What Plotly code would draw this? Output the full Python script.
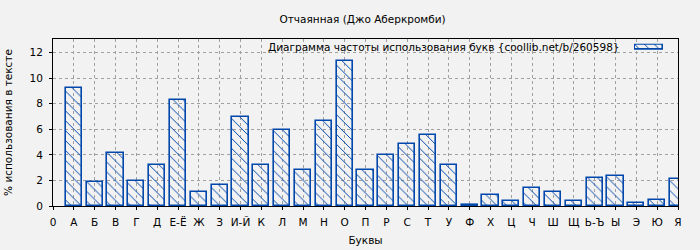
import plotly.graph_objects as go

tick_labels = ["0", "А", "Б", "В", "Г", "Д", "Е-Ё", "Ж", "З", "И-Й", "К", "Л", "М", "Н", "О",
               "П", "Р", "С", "Т", "У", "Ф", "Х", "Ц", "Ч", "Ш", "Щ", "Ь-Ъ", "Ы", "Э", "Ю", "Я"]
letters = tick_labels[1:]
values = [9.2, 1.9, 4.12, 1.92, 3.18, 8.29, 1.07, 1.62, 6.93, 3.18, 5.92, 2.79, 6.62, 11.31,
          2.79, 3.96, 4.82, 5.53, 3.18, 0.06, 0.83, 0.37, 1.38, 1.07, 0.37, 2.16, 2.32, 0.21,
          0.44, 2.09]
positions = list(range(1, len(letters) + 1))

title = "Отчаянная (Джо Аберкромби)"
legend_text = "Диаграмма частоты использования букв {coollib.net/b/260598}"
blue = "#0047AB"
font = "DejaVu Sans"
fs = 10.5

pattern = dict(shape="\\", fgcolor=blue, fgopacity=1, bgcolor="rgba(0,0,0,0)",
               size=7, solidity=0.14, fillmode="overlay")

fig = go.Figure()
fig.add_trace(go.Bar(
    x=positions, y=values, width=0.77,
    marker=dict(color="rgba(0,0,0,0)", line=dict(color=blue, width=1.6), pattern=pattern),
    showlegend=False, hoverinfo="skip"))
# legend swatch
fig.add_trace(go.Bar(
    x=[1], y=[0], orientation="h", width=1, xaxis="x2", yaxis="y2",
    marker=dict(color="rgba(0,0,0,0)", line=dict(color=blue, width=1.6), pattern=pattern),
    showlegend=False, hoverinfo="skip"))

fig.update_layout(
    width=700, height=250,
    margin=dict(l=53, r=22, t=39, b=44),
    paper_bgcolor="#f2f2f2", plot_bgcolor="#f2f2f2",
    font=dict(family=font, size=fs, color="#000"),
    title=dict(text=title, x=0.518, xanchor="center", y=0.924, yanchor="middle",
               font=dict(size=fs)),
    bargap=0,
    xaxis=dict(range=[0, 30], tickmode="array", tickvals=list(range(len(tick_labels))),
               ticktext=tick_labels, showgrid=True, gridcolor="#a0a0a0", griddash="dot",
               gridwidth=1, ticks="outside", ticklen=3, tickcolor="#000",
               ticklabelstandoff=3, automargin=False,
               showline=True, linecolor="#000", linewidth=1, mirror=True, zeroline=False,
               title=dict(text="Буквы", standoff=10, font=dict(size=fs)),
               tickfont=dict(size=fs)),
    yaxis=dict(range=[0, 13.06], tickmode="array", tickvals=[0, 2, 4, 6, 8, 10, 12],
               showgrid=True, gridcolor="#a0a0a0", griddash="dot", gridwidth=1,
               ticks="outside", ticklen=3, tickcolor="#000", ticklabelstandoff=4,
               automargin=False,
               showline=True, linecolor="#000", linewidth=1, mirror=True, zeroline=False,
               title=dict(text="% использования в тексте", standoff=14, font=dict(size=fs)),
               tickfont=dict(size=fs)),
    xaxis2=dict(domain=[0.9296, 0.9776], range=[-0.04, 1.04], visible=False, anchor="y2"),
    yaxis2=dict(domain=[0.932, 0.972], range=[-0.6, 0.6], visible=False, anchor="x2"),
    annotations=[dict(text=legend_text, xref="paper", yref="paper", x=0.911, y=0.952,
                      xanchor="right", yanchor="middle", showarrow=False,
                      font=dict(size=fs))],
)

fig.write_html("out.html")
